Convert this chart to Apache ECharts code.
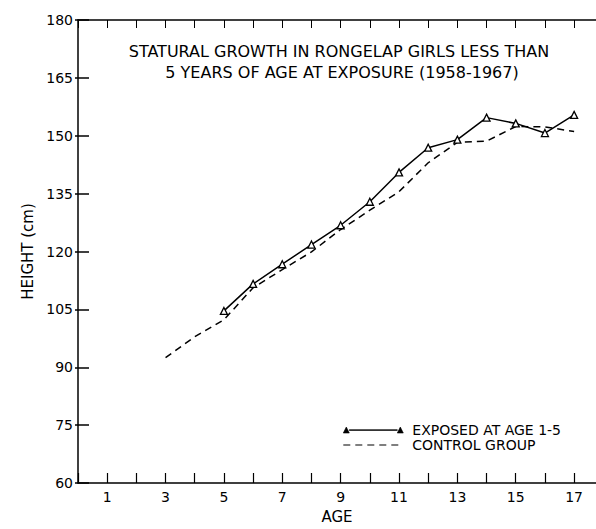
<!DOCTYPE html>
<html><head><meta charset="utf-8">
<script src="https://cdn.jsdelivr.net/npm/echarts@6/dist/echarts.min.js"></script>
<style>html,body{margin:0;padding:0;background:#fff}#c{width:596px;height:529px}</style>
</head><body><div id="c"></div>
<script>
const titleLines = ['STATURAL GROWTH IN RONGELAP GIRLS LESS THAN', '5 YEARS OF AGE AT EXPOSURE (1958-1967)'];
const exposedAges = [5, 6, 7, 8, 9, 10, 11, 12, 13, 14, 15, 16, 17];
const exposedHeights = [104.6, 111.6, 116.7, 121.8, 126.8, 132.9, 140.5, 146.9, 149.0, 154.7, 153.2, 150.7, 155.4];
const controlAges = [3, 4, 5, 6, 7, 8, 9, 10, 11, 12, 13, 14, 15, 16, 17];
const controlHeights = [92.5, 97.9, 102.3, 110.6, 115.3, 119.9, 125.7, 130.7, 135.5, 143.0, 148.3, 148.6, 152.4, 152.3, 151.1];
const seriesNames = ['EXPOSED AT AGE 1-5', 'CONTROL GROUP'];

const FONT = 'DejaVu Sans';
const chart = echarts.init(document.getElementById('c'), null, {renderer: 'svg'});
const axisLine = {show: true, lineStyle: {color: '#000', width: 1.5}};
const dashIcon = 'path://M0,4.5 L7,4.5 L7,5.5 L0,5.5 Z M12,4.5 L19,4.5 L19,5.5 L12,5.5 Z M24,4.5 L31,4.5 L31,5.5 L24,5.5 Z M36,4.5 L43,4.5 L43,5.5 L36,5.5 Z M48,4.5 L55,4.5 L55,5.5 L48,5.5 Z M0,0 L0.01,0 L0.01,0.01 Z M60,10 L59.99,10 L59.99,9.99 Z';
const exposedIcon = 'path://M0,8 L3,2 L6,8 Z M6,4.7 L54,4.7 L54,5.4 L6,5.4 Z M54,8 L57,2 L60,8 Z M0,0 L0.01,0 L0.01,0.01 Z M60,10 L59.99,10 L59.99,9.99 Z';
const option = {
  animation: false,
  backgroundColor: '#fff',
  grid: {left: 78, width: 518, top: 20, height: 471},
  graphic: [
    {type: 'text', x: 339, y: 43, style: {text: titleLines[0], fill: '#000', font: '16px "' + FONT + '"', textAlign: 'center'}},
    {type: 'text', x: 342, y: 64, style: {text: titleLines[1], fill: '#000', font: '16px "' + FONT + '"', textAlign: 'center'}}
  ],
  legend: {
    orient: 'vertical', left: 338, top: 418, itemWidth: 60, itemHeight: 10, itemGap: 1,
    textStyle: {color: '#000', fontFamily: FONT, fontSize: 14, padding: [0, 0, 0, 4]},
    data: [
      {name: seriesNames[0], icon: exposedIcon, itemStyle: {color: '#000', borderColor: '#000', borderWidth: 0.6}},
      {name: seriesNames[1], icon: dashIcon, itemStyle: {color: '#000', borderWidth: 0}}
    ]
  },
  xAxis: [
    {type: 'value', min: 0, max: 17.75, interval: 1, position: 'bottom',
     name: 'AGE', nameLocation: 'middle', nameGap: 26,
     nameTextStyle: {color: '#000', fontFamily: FONT, fontSize: 15},
     axisLine: axisLine, axisTick: {inside: true, length: 10, lineStyle: {color: '#000', width: 1.2}},
     splitLine: {show: false},
     axisLabel: {color: '#000', fontFamily: FONT, fontSize: 14, margin: 7, showMaxLabel: false,
       formatter: v => (v % 2 === 1 ? String(v) : '')}},
    {type: 'value', min: 0, max: 17.75, interval: 1, position: 'top',
     axisLine: axisLine, axisTick: {inside: true, length: 8, lineStyle: {color: '#000', width: 1}},
     splitLine: {show: false}, axisLabel: {show: false}}
  ],
  yAxis: [
    {type: 'value', min: 60, max: 180, interval: 15, position: 'left',
     name: 'HEIGHT (cm)', nameLocation: 'middle', nameGap: 40, nameRotate: 90,
     nameTextStyle: {color: '#000', fontFamily: FONT, fontSize: 15},
     axisLine: axisLine, axisTick: {inside: true, length: 11, lineStyle: {color: '#000', width: 1.5}},
     splitLine: {show: false},
     axisLabel: {color: '#000', fontFamily: FONT, fontSize: 14, margin: 5}},
    {type: 'value', min: 60, max: 180, interval: 15, position: 'right',
     axisLine: {show: false}, axisTick: {inside: true, length: 3, lineStyle: {color: '#000', width: 1.5}},
     splitLine: {show: false}, axisLabel: {show: false}}
  ],
  series: [
    {name: seriesNames[0], type: 'line', xAxisIndex: 0, yAxisIndex: 0,
     data: exposedAges.map((a, i) => [a, exposedHeights[i]]),
     symbol: 'triangle', symbolSize: 7, showSymbol: true,
     itemStyle: {color: '#fff', borderColor: '#000', borderWidth: 1.3},
     lineStyle: {color: '#000', width: 1.5}, z: 3},
    {name: seriesNames[1], type: 'line', xAxisIndex: 0, yAxisIndex: 0,
     data: controlAges.map((a, i) => [a, controlHeights[i]]),
     showSymbol: false, symbol: 'none',
     itemStyle: {color: '#000'},
     lineStyle: {color: '#000', width: 1.5, type: [7, 5]}, z: 2}
  ]
};
chart.setOption(option);
</script></body></html>
